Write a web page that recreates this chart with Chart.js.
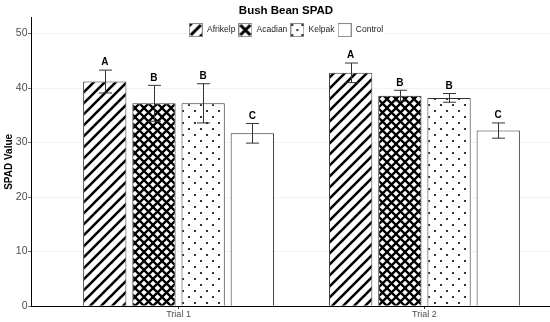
<!DOCTYPE html>
<html>
<head>
<meta charset="utf-8">
<script src="https://cdn.jsdelivr.net/npm/chart.js@4.4.0/dist/chart.umd.min.js"></script>
<style>
  html, body { margin: 0; padding: 0; overflow: hidden; background: #fff; }
  #wrap { width: 572px; height: 322px; }
</style>
</head>
<body>
<div id="wrap"><canvas id="chart" width="572" height="322"></canvas></div>
<script>
// data
const trials = ['Trial 1', 'Trial 2'];
const treatments = ['Afrikelp', 'Acadian', 'Kelpak', 'Control'];
const trialPos = [1, 2];

const afrikelp = [41.2, 42.8];
const acadian = [37.2, 38.6];
const kelpak = [37.2, 38.2];
const control = [31.7, 32.2];

const afrikelpErr = [2.1, 1.8];
const acadianErr = [3.3, 1.0];
const kelpakErr = [3.6, 0.8];
const controlErr = [1.8, 1.4];

const afrikelpLetters = ['A', 'A'];
const acadianLetters = ['B', 'B'];
const kelpakLetters = ['B', 'B'];
const controlLetters = ['C', 'C'];

const yTicks = [0, 10, 20, 30, 40, 50];

Chart.defaults.font.family = '"Liberation Sans", Arial, sans-serif';

function tile(w, h, draw) {
  const c = document.createElement('canvas');
  c.width = w; c.height = h;
  const g = c.getContext('2d');
  g.fillStyle = '#fff';
  g.fillRect(0, 0, w, h);
  draw(g, w, h);
  return c;
}

function makePattern(c) {
  return document.createElement('canvas').getContext('2d').createPattern(c, 'repeat');
}

const stripeTile = tile(11, 11, (g, w, h) => {
  g.strokeStyle = '#000';
  g.lineWidth = 2.6;
  g.beginPath();
  g.moveTo(-2, h + 2); g.lineTo(w + 2, -2);
  g.moveTo(-2, 2); g.lineTo(2, -2);
  g.moveTo(w - 2, h + 2); g.lineTo(w + 2, h - 2);
  g.stroke();
});

const crossTile = tile(9, 9, (g, w, h) => {
  g.strokeStyle = '#000';
  g.lineWidth = 2.3;
  g.beginPath();
  g.moveTo(-2, -2); g.lineTo(w + 2, h + 2);
  g.moveTo(-2, h + 2); g.lineTo(w + 2, -2);
  g.stroke();
});

const dotTile = tile(12, 12, (g) => {
  g.fillStyle = '#000';
  [[3, 3], [9, 9]].forEach(([x, y]) => {
    g.beginPath();
    g.arc(x, y, 1.1, 0, Math.PI * 2);
    g.fill();
  });
});

const fills = [
  makePattern(stripeTile),
  makePattern(crossTile),
  makePattern(dotTile),
  '#ffffff'
];

// legend keys
function key(draw) {
  return tile(14, 14, (g) => {
    draw(g);
    g.strokeStyle = '#8a8a8a';
    g.lineWidth = 1;
    g.strokeRect(0.5, 0.5, 13, 13);
  });
}
const legendKeys = [
  key(g => {
    g.strokeStyle = '#000'; g.lineWidth = 3;
    g.beginPath();
    g.moveTo(2, 12); g.lineTo(12, 2);
    g.moveTo(0, 3); g.lineTo(3, 0);
    g.moveTo(11, 14); g.lineTo(14, 11);
    g.stroke();
  }),
  key(g => {
    g.strokeStyle = '#000'; g.lineWidth = 3;
    g.beginPath();
    g.moveTo(2, 2); g.lineTo(12, 12);
    g.moveTo(12, 2); g.lineTo(2, 12);
    g.stroke();
  }),
  key(g => {
    g.fillStyle = '#000';
    [[2, 2], [12, 2], [2, 12], [12, 12], [7, 7]].forEach(([x, y]) => {
      g.beginPath(); g.arc(x, y, 1.1, 0, Math.PI * 2); g.fill();
    });
  }),
  key(() => {})
];

const series = [afrikelp, acadian, kelpak, control];
const errs = [afrikelpErr, acadianErr, kelpakErr, controlErr];
const letters = [afrikelpLetters, acadianLetters, kelpakLetters, controlLetters];

const datasets = treatments.map((name, k) => ({
  label: name,
  data: series[k].map((v, i) => ({ x: trialPos[i], y: v })),
  errors: errs[k],
  letters: letters[k],
  backgroundColor: fills[k],
  borderColor: '#333',
  borderWidth: 1,
  categoryPercentage: 0.8,
  barPercentage: 0.88
}));

const errorBars = {
  id: 'errorBars',
  afterDatasetsDraw(chart) {
    const { ctx } = chart;
    const y = chart.scales.y;
    ctx.save();
    chart.data.datasets.forEach((ds, di) => {
      chart.getDatasetMeta(di).data.forEach((bar, i) => {
        const v = ds.data[i].y, e = ds.errors[i];
        const top = y.getPixelForValue(v + e);
        const bot = y.getPixelForValue(v - e);
        const half = bar.width * 0.15;
        const x = Math.round(bar.x) + 0.5;
        ctx.strokeStyle = '#333';
        ctx.lineWidth = 1;
        ctx.beginPath();
        ctx.moveTo(x, top); ctx.lineTo(x, bot);
        ctx.moveTo(x - half, top); ctx.lineTo(x + half, top);
        ctx.moveTo(x - half, bot); ctx.lineTo(x + half, bot);
        ctx.stroke();
        ctx.fillStyle = '#000';
        ctx.font = 'bold 10px "Liberation Sans", Arial, sans-serif';
        ctx.textAlign = 'center';
        ctx.textBaseline = 'middle';
        ctx.fillText(ds.letters[i], bar.x, top - 7.5);
      });
    });
    ctx.restore();
  }
};

// ggplot puts the legend inside the panel: take no layout space, sit on top of the panel
const legendPlacement = {
  id: 'legendPlacement',
  beforeLayout(chart) {
    const lg = chart.legend;
    if (lg && !lg._noSpace) {
      const fit = lg.fit;
      lg.fit = function () { fit.call(this); this.height = 0; };
      lg._noSpace = true;
    }
  },
  afterLayout(chart) {
    const lg = chart.legend;
    lg.top = chart.chartArea.top + 5;
    lg.height = 20;
    lg.bottom = lg.top + 20;
  },
  afterDraw(chart) {
    const lg = chart.legend;
    const w = lg.lineWidths[0] - 3;
    const cx = (lg.left + lg.right) / 2;
    const ctx = chart.ctx;
    ctx.save();
    ctx.fillStyle = '#fff';
    ctx.fillRect(cx - w / 2 - 2, lg.top, w + 4, 16);
    ctx.restore();
    lg.draw();
  }
};

new Chart(document.getElementById('chart'), {
  type: 'bar',
  data: { datasets },
  plugins: [errorBars, legendPlacement],
  options: {
    responsive: false,
    animation: false,
    devicePixelRatio: 1,
    layout: { padding: 0 },
    plugins: {
      title: {
        display: true,
        text: 'Bush Bean SPAD',
        color: '#000',
        font: { size: 11.5, weight: 'bold' },
        padding: { top: 4, bottom: 0 }
      },
      legend: {
        position: 'top',
        labels: {
          usePointStyle: true,
          pointStyleWidth: 14,
          color: '#222',
          font: { size: 8.5 },
          padding: 3,
          generateLabels: chart =>
            Chart.defaults.plugins.legend.labels.generateLabels(chart)
              .map((item, i) => ({ ...item, pointStyle: legendKeys[i] }))
        }
      },
      tooltip: { enabled: false }
    },
    scales: {
      x: {
        type: 'linear',
        offset: false,
        min: 0.4,
        max: 2.6,
        afterBuildTicks: scale => { scale.ticks = trialPos.map(v => ({ value: v })); },
        afterFit: scale => { scale.height = 16; },
        ticks: {
          callback: v => trials[trialPos.indexOf(v)],
          color: '#4d4d4d',
          font: { size: 9 },
          padding: 0,
          maxRotation: 0
        },
        grid: { offset: false, drawOnChartArea: false, drawTicks: true, tickLength: 3, tickColor: '#333' },
        border: { color: '#000', width: 1 }
      },
      y: {
        min: 0,
        max: 52.9,
        afterBuildTicks: scale => { scale.ticks = yTicks.map(v => ({ value: v })); },
        afterFit: scale => { scale.width = 31; },
        ticks: { color: '#4d4d4d', font: { size: 10.5 }, padding: 0.5 },
        grid: { color: '#ededed', lineWidth: 0.7, tickLength: 3, tickColor: '#333' },
        border: { color: '#000', width: 1 },
        title: {
          display: true,
          text: 'SPAD Value',
          color: '#000',
          font: { size: 10, weight: 'bold' },
          padding: { top: 3, bottom: 0 }
        }
      }
    }
  }
});
</script>
</body>
</html>
